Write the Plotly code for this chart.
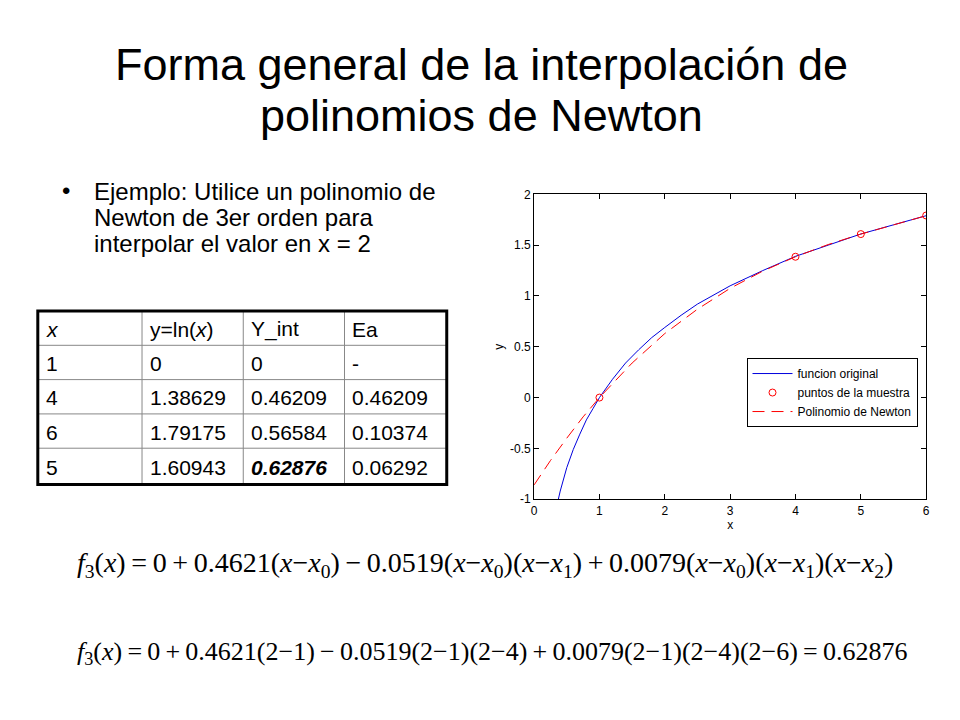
import plotly.graph_objects as go

# the page body has an 8px margin, so the figure is sized to fit the 960x720 window
OFF = 8
W, H = 960 - 2 * OFF, 720 - 2 * OFF

# ---------------- data ----------------
title_lines = ["Forma general de la interpolación de", "polinomios de Newton"]
bullet_lines = ["Ejemplo: Utilice un polinomio de", "Newton de 3er orden para", "interpolar el valor en x = 2"]

table_header = ["<i>x</i>", "y=ln(<i>x</i>)", "Y_int", "Ea"]
table_x = ["1", "4", "6", "5"]
table_lnx = ["0", "1.38629", "1.79175", "1.60943"]
table_yint = ["0", "0.46209", "0.56584", "<b><i>0.62876</i></b>"]
table_ea = ["-", "0.46209", "0.10374", "0.06292"]

# curve "funcion original"
orig_x = [0.3, 0.4, 0.5, 0.6, 0.7, 0.8, 0.9, 1.0, 1.2, 1.4, 1.6, 1.8, 2.0, 2.25, 2.5, 2.75,
          3.0, 3.5, 4.0, 4.5, 5.0, 5.5, 6.0]
orig_y = [-1.2, -0.92, -0.69, -0.51, -0.36, -0.22, -0.11, 0.0, 0.18, 0.34, 0.47, 0.59, 0.69,
          0.81, 0.92, 1.01, 1.10, 1.25, 1.39, 1.50, 1.61, 1.70, 1.79]

# sample points
pts_x = [1, 4, 5, 6]
pts_y = [0.0, 1.386, 1.609, 1.792]

# Newton polynomial
newt_x = [0, 0.25, 0.5, 0.75, 1.0, 1.5, 2.0, 2.5, 3.0, 3.5, 4.0, 4.5, 5.0, 5.5, 6.0]
newt_y = [-0.86, -0.62, -0.40, -0.19, 0.0, 0.34, 0.63, 0.87, 1.075, 1.245, 1.386, 1.506,
          1.609, 1.702, 1.79]

x_ticks = [0, 1, 2, 3, 4, 5, 6]
y_ticks = [-1, -0.5, 0, 0.5, 1, 1.5, 2]
y_ticklabels = ["-1", "-0.5", "0", "0.5", "1", "1.5", "2"]

coefs = ["0", "0.4621", "0.0519", "0.0079"]
signs = ["+", "−", "+"]
x_eval = "2"
nodes = ["1", "4", "6"]
result = "0.62876"

# ---------------- figure ----------------
def px(x):
    return (x - OFF) / W

def py(y):
    return 1 - (y - OFF) / H

fig = go.Figure()
fig.add_trace(go.Scatter(x=orig_x, y=orig_y, mode="lines", name="funcion original",
                         line=dict(color="#0000dd", width=1)))
fig.add_trace(go.Scatter(x=pts_x, y=pts_y, mode="markers", name="puntos de la muestra",
                         marker=dict(symbol="circle-open", color="#ff0000", size=7,
                                     line=dict(width=1, color="#ff0000"))))
fig.add_trace(go.Scatter(x=newt_x, y=newt_y, mode="lines", name="Polinomio de Newton",
                         line=dict(color="#ff0000", width=1, dash="12px,7px")))

ax_common = dict(showline=True, linecolor="black", linewidth=1, mirror="allticks",
                 ticks="inside", ticklen=5, tickcolor="black", showgrid=False, zeroline=False,
                 tickfont=dict(family="Liberation Sans", size=12, color="black"))

fig.update_layout(
    width=W, height=H, margin=dict(l=0, r=0, t=0, b=0),
    paper_bgcolor="white", plot_bgcolor="white",
    xaxis=dict(domain=[px(535), px(930)], range=[0, 6], tickvals=x_ticks,
               title=dict(text="x", font=dict(family="Liberation Sans", size=12, color="black"),
                          standoff=1), **ax_common),
    yaxis=dict(domain=[py(502), py(191)], range=[-1, 2], tickvals=y_ticks,
               ticktext=y_ticklabels,
               title=dict(text="y", font=dict(family="Liberation Sans", size=12, color="black"),
                          standoff=3), **ax_common),
    legend=dict(x=px(749), y=py(358), xanchor="left", yanchor="top",
                bordercolor="black", borderwidth=1, bgcolor="white",
                font=dict(family="Liberation Sans", size=12, color="black"),
                tracegroupgap=0, itemwidth=40),
    showlegend=True,
)

ann = []
# title
for i, t in enumerate(title_lines):
    ann.append(dict(text=t, x=px(482), y=py(59 + 52 * i), xref="paper", yref="paper",
                    showarrow=False, xanchor="center", yanchor="middle",
                    font=dict(family="Liberation Sans", size=45, color="black")))
# bullet
ann.append(dict(text="•", x=px(57), y=py(187), xref="paper", yref="paper", showarrow=False,
                xanchor="left", yanchor="middle",
                font=dict(family="Liberation Sans", size=24, color="black")))
for i, t in enumerate(bullet_lines):
    ann.append(dict(text=t, x=px(90), y=py(188 + 26.5 * i), xref="paper", yref="paper",
                    showarrow=False, xanchor="left", yanchor="middle",
                    font=dict(family="Liberation Sans", size=24, color="black")))

# table
col_edges = [35, 140, 242, 344, 447]
row_edges = [310, 345, 380, 415, 450, 487]
rows = [table_header] + [[table_x[i], table_lnx[i], table_yint[i], table_ea[i]] for i in range(4)]
for r, row in enumerate(rows):
    yc = (row_edges[r] + row_edges[r + 1]) / 2 + 1
    for c, cell in enumerate(row):
        ann.append(dict(text=cell, x=px(col_edges[c] + 6), y=py(yc), xref="paper", yref="paper",
                        showarrow=False, xanchor="left", yanchor="middle",
                        font=dict(family="Liberation Sans", size=21, color="black")))

shapes = []
for xe in col_edges[1:-1]:
    shapes.append(dict(type="line", xref="paper", yref="paper", x0=px(xe), x1=px(xe),
                       y0=py(row_edges[0]), y1=py(row_edges[-1]),
                       line=dict(color="#888888", width=1)))
for ye in row_edges[1:-1]:
    shapes.append(dict(type="line", xref="paper", yref="paper", x0=px(col_edges[0]),
                       x1=px(col_edges[-1]), y0=py(ye), y1=py(ye),
                       line=dict(color="#888888", width=1)))
shapes.append(dict(type="rect", xref="paper", yref="paper", x0=px(col_edges[0]),
                   x1=px(col_edges[-1]), y0=py(row_edges[0]), y1=py(row_edges[-1]),
                   line=dict(color="black", width=3)))

# equations
TS = "\u2009"  # thin space around operators
lhs = "<i>f</i><sub>3</sub>(<i>x</i>)" + TS + "=" + TS
terms1 = [coefs[0]]
terms2 = [coefs[0]]
for k in range(1, 4):
    f1 = "".join("(<i>x</i>−<i>x</i><sub>%d</sub>)" % j for j in range(k))
    f2 = "".join("(%s−%s)" % (x_eval, nodes[j]) for j in range(k))
    terms1.append("%s%s%s%s%s" % (TS, signs[k - 1], TS, coefs[k], f1))
    terms2.append("%s%s%s%s%s" % (TS, signs[k - 1], TS, coefs[k], f2))
eq1 = lhs + "".join(terms1)
eq2 = lhs + "".join(terms2) + TS + "=" + TS + result
for t, yc, fs in [(eq1, 569, 28), (eq2, 659, 26)]:
    ann.append(dict(text=t, x=px(72), y=py(yc), xref="paper", yref="paper", showarrow=False,
                    xanchor="left", yanchor="middle",
                    font=dict(family="Liberation Serif", size=fs, color="black")))

fig.update_layout(annotations=ann, shapes=shapes)
fig.write_html("out.html")
